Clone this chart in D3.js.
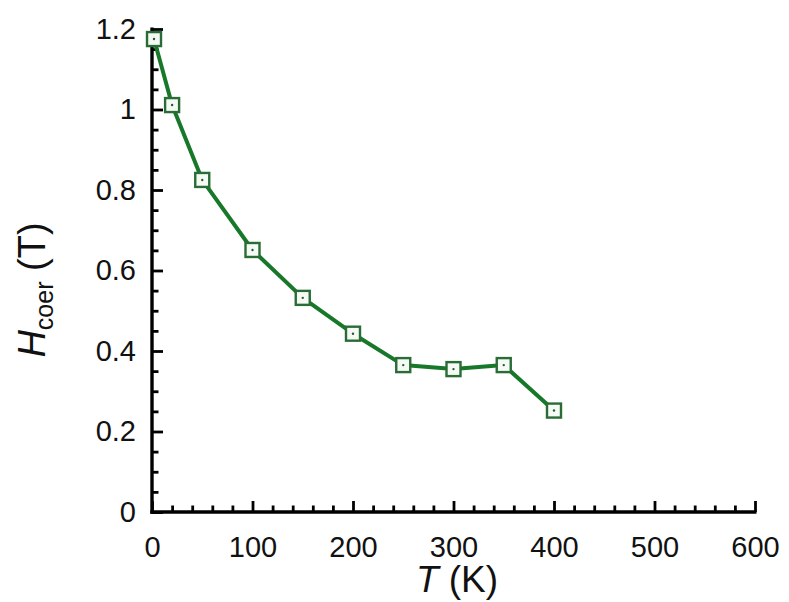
<!DOCTYPE html>
<html lang="en">
<head>
    <meta charset="UTF-8">
    <title>Hcoer vs T</title>
    <script src="https://d3js.org/d3.v7.min.js"></script>
    <style>
        body { margin: 0; background: #fff; }
        text { font-family: "Liberation Sans", Arial, sans-serif; }
    </style>
</head>
<body>
<div id="chart"></div>

<script>
    // data
    var temps = [2, 20, 50, 100, 150, 200, 250, 300, 350, 400];
    var hcoer = [1.175, 1.011, 0.825, 0.651, 0.532, 0.443, 0.365, 0.355, 0.365, 0.252];
    var xTicks = [0, 100, 200, 300, 400, 500, 600];
    var yTicks = [0, 0.2, 0.4, 0.6, 0.8, 1, 1.2];

    var w = 789;
    var h = 602;
    var pLeft = 152, pRight = 755, pTop = 29, pBottom = 512;

    var svg = d3.select("#chart")
                .append("svg")
                .attr("width", w)
                .attr("height", h);

    var x = d3.scaleLinear().domain([0, 600]).range([pLeft, pRight]);
    var y = d3.scaleLinear().domain([0, 1.2]).range([pBottom, pTop]);

    // minor ticks first, pointing inward
    var xMinor = d3.range(0, 601, 20).filter(function(v) { return v % 100 !== 0; });
    var yMinor = d3.range(0, 24).map(function(i) { return i * 0.05; }).filter(function(v, i) { return i % 4 !== 0; });

    svg.append("g")
       .attr("transform", "translate(0," + pBottom + ")")
       .call(d3.axisBottom(x).tickValues(xMinor).tickSize(-6.5).tickFormat(""))
       .call(function(g) { g.select(".domain").remove(); })
       .selectAll("line").attr("stroke-width", 2.8);

    svg.append("g")
       .attr("transform", "translate(" + pLeft + ",0)")
       .call(d3.axisLeft(y).tickValues(yMinor).tickSize(-6.5).tickFormat(""))
       .call(function(g) { g.select(".domain").remove(); })
       .selectAll("line").attr("stroke-width", 2.8);

    // major ticks + labels
    var xAxis = svg.append("g")
       .attr("transform", "translate(0," + pBottom + ")")
       .call(d3.axisBottom(x).tickValues(xTicks).tickSize(-11).tickPadding(24).tickFormat(d3.format("d")));
    xAxis.select(".domain").attr("d", "M" + (pLeft - 1.7) + ",0H" + (pRight + 1.5)).attr("stroke-width", 3.4);
    xAxis.selectAll("line").attr("stroke-width", 2.8);
    xAxis.selectAll("text").attr("font-size", 29).attr("fill", "#111")
         .attr("font-family", "'Liberation Sans', Arial, sans-serif");

    var yAxis = svg.append("g")
       .attr("transform", "translate(" + pLeft + ",0)")
       .call(d3.axisLeft(y).tickValues(yTicks).tickSize(-11).tickPadding(16)
             .tickFormat(function(d) { return d === 0 || d === 1 ? d3.format("d")(d) : d3.format(".1f")(d); }));
    yAxis.select(".domain").attr("d", "M0," + (pBottom + 1.7) + "V" + (pTop - 1.5)).attr("stroke-width", 3.4);
    yAxis.selectAll("line").attr("stroke-width", 2.8);
    yAxis.selectAll("text").attr("font-size", 29).attr("fill", "#111")
         .attr("font-family", "'Liberation Sans', Arial, sans-serif");

    // data line
    var pts = temps.map(function(t, i) { return [t, hcoer[i]]; });
    var line = d3.line()
                 .x(function(d) { return x(d[0]); })
                 .y(function(d) { return y(d[1]); });

    svg.append("path")
       .datum(pts)
       .attr("fill", "none")
       .attr("stroke", "#17782a")
       .attr("stroke-width", 4)
       .attr("stroke-linejoin", "round")
       .attr("d", line);

    var marks = svg.selectAll("g.mark")
                   .data(pts)
                   .enter()
                   .append("g")
                   .attr("class", "mark")
                   .attr("transform", function(d) { return "translate(" + x(d[0]) + "," + y(d[1]) + ")"; });

    marks.append("rect")
         .attr("x", -7).attr("y", -7)
         .attr("width", 14).attr("height", 14)
         .attr("fill", "#f4faf4")
         .attr("stroke", "#2a6c36")
         .attr("stroke-width", 2.4);

    marks.append("circle")
         .attr("r", 1.2)
         .attr("fill", "#335533");

    // axis titles
    var xt = svg.append("text")
       .attr("x", 457)
       .attr("y", 592)
       .attr("text-anchor", "middle")
       .attr("font-size", 37)
       .attr("fill", "#111");
    xt.append("tspan").attr("font-style", "italic").text("T");
    xt.append("tspan").text(" (K)");

    var yt = svg.append("text")
       .attr("transform", "translate(45,290) rotate(-90)")
       .attr("text-anchor", "middle")
       .attr("font-size", 38)
       .attr("fill", "#111");
    yt.append("tspan").attr("font-style", "italic").text("H");
    yt.append("tspan").attr("font-size", 25).attr("dy", 8).text("coer");
    yt.append("tspan").attr("dy", -8).text(" (T)");
</script>
</body>
</html>
